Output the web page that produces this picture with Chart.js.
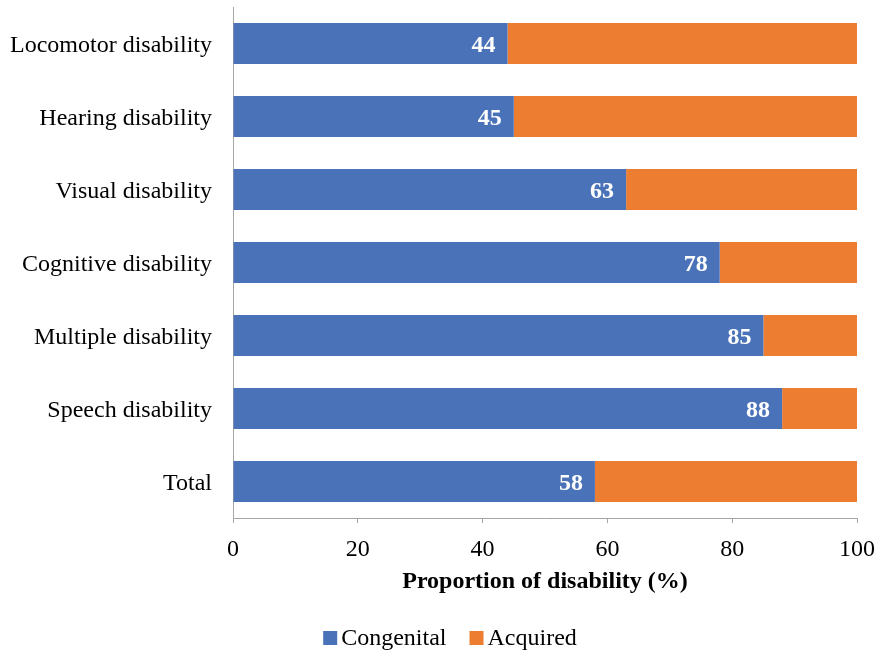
<!DOCTYPE html>
<html>
<head>
<meta charset="utf-8">
<script src="https://cdn.jsdelivr.net/npm/chart.js@4/dist/chart.umd.min.js"></script>
<style>
  html, body { margin: 0; padding: 0; background: #ffffff; }
  #wrap { width: 882px; height: 654px; }
</style>
</head>
<body>
<div id="wrap"><canvas id="chart" width="882" height="654"></canvas></div>
<script>
// Data (proportion in %)
const categories = [
    'Locomotor disability',
    'Hearing disability',
    'Visual disability',
    'Cognitive disability',
    'Multiple disability',
    'Speech disability',
    'Total',
];
const congenital = [44, 45, 63, 78, 85, 88, 58];
const acquired = [56, 55, 37, 22, 15, 12, 42];
const xTicks = [0, 20, 40, 60, 80, 100];

const SERIF = '"Liberation Serif", "Times New Roman", serif';
const BLUE = '#4a72b8';
const ORANGE = '#ed7d31';
const AXIS = '#a6a6a6';

// white bold values at the inner end of the congenital bars
const barValues = {
    id: 'barValues',
    afterDatasetsDraw(chart) {
        const ctx = chart.ctx;
        const meta = chart.getDatasetMeta(0);
        ctx.save();
        ctx.fillStyle = '#ffffff';
        ctx.font = 'bold 24px ' + SERIF;
        ctx.textAlign = 'right';
        ctx.textBaseline = 'middle';
        meta.data.forEach((bar, i) => {
            ctx.fillText(String(congenital[i]), bar.x - 12, bar.y + 2);
        });
        ctx.restore();
    },
};

// legend drawn the way the original figure spaces it (tight box/text gap)
const compactLegend = {
    id: 'compactLegend',
    afterDraw(chart) {
        const ctx = chart.ctx;
        const sets = chart.data.datasets;
        ctx.save();
        ctx.font = '24px ' + SERIF;
        ctx.textBaseline = 'middle';
        ctx.textAlign = 'left';
        const box = 14, gap = 4, itemGap = 23;
        const widths = sets.map(d => ctx.measureText(d.label).width);
        const total = widths.reduce((s, w) => s + box + gap + w, 0) + itemGap * (sets.length - 1);
        let x = 450 - total / 2;
        const y = 638;
        sets.forEach((d, i) => {
            ctx.fillStyle = d.backgroundColor;
            ctx.fillRect(x, y - box / 2, box, box);
            ctx.fillStyle = '#000000';
            ctx.fillText(d.label, x + box + gap, y + 1);
            x += box + gap + widths[i] + itemGap;
        });
        ctx.restore();
    },
};

new Chart(document.getElementById('chart'), {
    type: 'bar',
    data: {
        labels: categories,
        datasets: [
            { label: 'Congenital', data: congenital, backgroundColor: BLUE },
            { label: 'Acquired', data: acquired, backgroundColor: ORANGE },
        ],
    },
    options: {
        indexAxis: 'y',
        responsive: false,
        animation: false,
        datasets: {
            bar: { categoryPercentage: 1, barPercentage: 0.56, borderWidth: 0 },
        },
        layout: { padding: { top: 7, right: 25, left: 0, bottom: 44 } },
        plugins: {
            legend: { display: false },
            tooltip: { enabled: false },
        },
        scales: {
            x: {
                stacked: true,
                min: 0,
                max: 100,
                afterBuildTicks(scale) {
                    scale.ticks = xTicks.map(v => ({ value: v }));
                },
                afterFit(scale) {
                    scale.height = 92;
                    scale.paddingLeft = 0;
                    scale.paddingRight = 0;
                },
                grid: { drawOnChartArea: false, tickLength: 5, color: AXIS },
                border: { display: true, color: AXIS },
                ticks: { color: '#000000', font: { family: SERIF, size: 24 }, padding: 12 },
                title: {
                    display: true,
                    text: 'Proportion of disability (%)',
                    color: '#000000',
                    font: { family: SERIF, size: 24, weight: 'bold' },
                    padding: { top: 0, bottom: 14 },
                },
            },
            y: {
                stacked: true,
                afterFit(scale) {
                    scale.width = 233;
                    scale.paddingTop = 0;
                    scale.paddingBottom = 0;
                },
                grid: { display: false, drawTicks: false },
                border: { display: true, color: AXIS },
                ticks: { color: '#000000', font: { family: SERIF, size: 24 }, padding: 21, labelOffset: 2 },
            },
        },
    },
    plugins: [barValues, compactLegend],
});
</script>
</body>
</html>
